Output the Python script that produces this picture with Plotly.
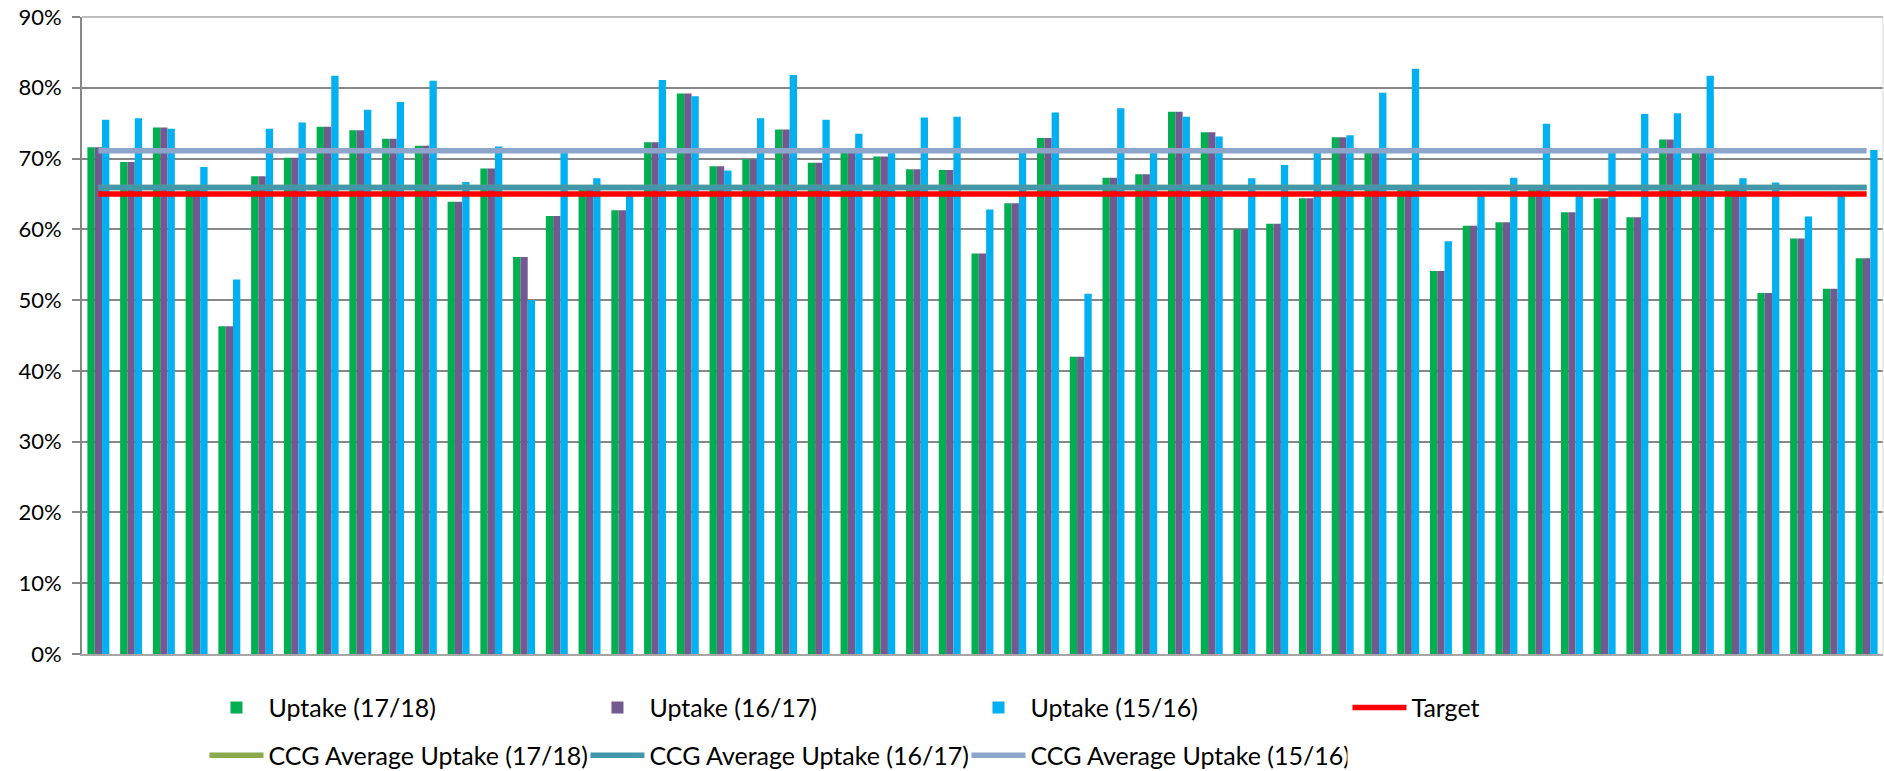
import plotly.graph_objects as go

# Practices (labels are not shown on the axis)
practices = [f"Practice {i}" for i in range(1, 56)]

# Uptake per practice, %
uptake_1718 = [71.6, 69.5, 74.4, 65.6, 46.3, 67.5, 70.1, 74.5, 74.0, 72.8,
               71.8, 63.9, 68.6, 56.1, 61.9, 65.6, 62.7, 72.3, 79.2, 68.9,
               69.9, 74.1, 69.4, 71.0, 70.3, 68.5, 68.4, 56.6, 63.7, 72.9,
               42.0, 67.3, 67.8, 76.6, 73.7, 60.0, 60.8, 64.4, 73.0, 71.0,
               65.6, 54.1, 60.5, 61.0, 65.6, 62.4, 64.4, 61.7, 72.7, 71.0,
               65.6, 51.0, 58.7, 51.6, 55.9]
uptake_1617 = [71.6, 69.5, 74.4, 65.6, 46.3, 67.5, 70.1, 74.5, 74.0, 72.8,
               71.8, 63.9, 68.6, 56.1, 61.9, 65.6, 62.7, 72.3, 79.2, 68.9,
               69.9, 74.1, 69.4, 71.0, 70.3, 68.5, 68.4, 56.6, 63.7, 72.9,
               42.0, 67.3, 67.8, 76.6, 73.7, 60.0, 60.8, 64.4, 73.0, 71.0,
               65.6, 54.1, 60.5, 61.0, 65.6, 62.4, 64.4, 61.7, 72.7, 71.0,
               65.6, 51.0, 58.7, 51.6, 55.9]
uptake_1516 = [75.5, 75.7, 74.2, 68.8, 52.9, 74.2, 75.1, 81.7, 76.9, 78.0,
               81.0, 66.7, 71.7, 50.0, 71.0, 67.2, 65.3, 81.1, 78.8, 68.3,
               75.7, 81.8, 75.5, 73.5, 71.0, 75.8, 75.9, 62.8, 71.0, 76.5,
               50.9, 77.1, 71.0, 75.9, 73.1, 67.2, 69.1, 71.0, 73.3, 79.3,
               82.7, 58.3, 65.3, 67.3, 74.9, 65.3, 71.0, 76.3, 76.4, 81.7,
               67.2, 66.6, 61.8, 65.3, 71.2]

target = 65.0
ccg_avg_1718 = 65.9
ccg_avg_1617 = 65.9
ccg_avg_1516 = 71.1

y_tick_values = [0, 10, 20, 30, 40, 50, 60, 70, 80, 90]
y_tick_labels = ["0%", "10%", "20%", "30%", "40%", "50%", "60%", "70%", "80%", "90%"]

FONT = "Lato"
ends = [practices[0], practices[-1]]

fig = go.Figure()

fig.add_trace(go.Bar(x=practices, y=uptake_1718, name="Uptake (17/18)",
                     marker=dict(color="#00B050", line=dict(width=0)),
                     legend="legend"))
fig.add_trace(go.Bar(x=practices, y=uptake_1617, name="Uptake (16/17)",
                     marker=dict(color="#725A91", line=dict(width=0)),
                     legend="legend"))
fig.add_trace(go.Bar(x=practices, y=uptake_1516, name="Uptake (15/16)",
                     marker=dict(color="#00B0F0", line=dict(width=0)),
                     legend="legend"))
fig.add_trace(go.Scatter(x=ends, y=[target, target], name="Target",
                         mode="lines", line=dict(color="#FF0000", width=5.5),
                         legend="legend"))
fig.add_trace(go.Scatter(x=ends, y=[ccg_avg_1718, ccg_avg_1718],
                         name="CCG Average Uptake (17/18)", mode="lines",
                         line=dict(color="#8AAA4C", width=5.5), legend="legend2"))
fig.add_trace(go.Scatter(x=ends, y=[ccg_avg_1617, ccg_avg_1617],
                         name="CCG Average Uptake (16/17)", mode="lines",
                         line=dict(color="#4297AA", width=5.5), legend="legend2"))
fig.add_trace(go.Scatter(x=ends, y=[ccg_avg_1516, ccg_avg_1516],
                         name="CCG Average Uptake (15/16)", mode="lines",
                         line=dict(color="#8EA5CB", width=5.5), legend="legend2"))

legend_common = dict(
    orientation="h", xanchor="left", yanchor="middle",
    xref="paper", yref="container", x=0.068,
    font=dict(family=FONT, size=25, color="#000000"),
    entrywidth=312, itemwidth=54, traceorder="normal",
    bgcolor="rgba(0,0,0,0)", borderwidth=0,
)

fig.update_layout(
    width=1884, height=771,
    margin=dict(l=82, r=1, t=17, b=117),
    paper_bgcolor="#FFFFFF", plot_bgcolor="#FFFFFF",
    barmode="group", bargap=0.33, bargroupgap=0,
    showlegend=True,
    legend=dict(y=0.082, **legend_common),
    legend2=dict(y=0.020, **legend_common),
    font=dict(family=FONT),
    xaxis=dict(
        type="category", showticklabels=False, ticks="",
        showgrid=False, zeroline=False,
        showline=True, linecolor="#A6A6A6", linewidth=2, mirror=False,
    ),
    yaxis=dict(
        range=[0, 90], tickvals=y_tick_values, ticktext=y_tick_labels,
        showgrid=True, gridcolor="#878787", gridwidth=1.5,
        zeroline=False,
        showline=True, linecolor="#878787", linewidth=2,
        ticks="outside", ticklen=8, tickcolor="#878787", tickwidth=1.5,
        ticklabelstandoff=6,
        tickfont=dict(family=FONT, size=22, color="#000000"),
    ),
    shapes=[
        dict(type="line", xref="paper", yref="paper", x0=0, x1=1, y0=1, y1=1,
             line=dict(color="#BFBFBF", width=2), layer="above"),
        dict(type="line", xref="paper", yref="paper", x0=1, x1=1, y0=0, y1=1,
             line=dict(color="#D9D9D9", width=1), layer="above"),
    ],
)

fig.write_html("out.html")
